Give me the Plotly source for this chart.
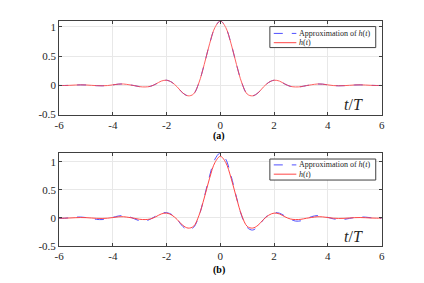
import plotly.graph_objects as go

t = [-6.0, -5.8, -5.6, -5.4, -5.2, -5.0, -4.8, -4.6, -4.4, -4.2, -4.0, -3.8, -3.6, -3.4, -3.2,
     -3.0, -2.8, -2.6, -2.4, -2.2, -2.0, -1.8, -1.6, -1.4, -1.2, -1.0, -0.8, -0.6, -0.4, -0.2,
     0.0, 0.2, 0.4, 0.6, 0.8, 1.0, 1.2, 1.4, 1.6, 1.8, 2.0, 2.2, 2.4, 2.6, 2.8, 3.0, 3.2, 3.4,
     3.6, 3.8, 4.0, 4.2, 4.4, 4.6, 4.8, 5.0, 5.2, 5.4, 5.6, 5.8, 6.0]

h = [-0.002, -0.003, 0.0, 0.005, 0.008, 0.006, 0.0, -0.006, -0.008, -0.004, 0.008, 0.02, 0.022, 0.01, -0.005,
     -0.023, -0.028, -0.017, 0.022, 0.072, 0.087, 0.05, -0.03, -0.13, -0.18, -0.15, 0.04, 0.356, 0.71, 0.99,
     1.10, 0.99, 0.71, 0.356, 0.04, -0.15, -0.18, -0.13, -0.03, 0.05, 0.087, 0.072, 0.022, -0.017, -0.028,
     -0.023, -0.005, 0.01, 0.022, 0.02, 0.008, -0.004, -0.008, -0.006, 0.0, 0.006, 0.008, 0.005, 0.0,
     -0.003, -0.002]

approx_a = [-0.002, -0.003, 0.0, 0.005, 0.008, 0.006, 0.0, -0.006, -0.008, -0.004, 0.008, 0.02, 0.022, 0.01, -0.005,
            -0.023, -0.028, -0.017, 0.022, 0.072, 0.087, 0.05, -0.03, -0.13, -0.18, -0.15, 0.04, 0.356, 0.71, 0.99,
            1.10, 0.99, 0.71, 0.356, 0.04, -0.15, -0.18, -0.13, -0.03, 0.05, 0.087, 0.072, 0.022, -0.017, -0.028,
            -0.023, -0.005, 0.01, 0.022, 0.02, 0.008, -0.004, -0.008, -0.006, 0.0, 0.006, 0.008, 0.005, 0.0,
            -0.003, -0.002]

approx_b = [-0.008, -0.005, 0.005, 0.015, 0.017, 0.008, -0.008, -0.025, -0.028, -0.015, 0.01, 0.035, 0.042, 0.025, -0.015,
            -0.05, -0.055, -0.02, 0.035, 0.085, 0.095, 0.06, -0.03, -0.15, -0.215, -0.17, 0.03, 0.37, 0.75, 1.05,
            1.16, 1.05, 0.75, 0.37, 0.03, -0.17, -0.215, -0.15, -0.03, 0.06, 0.095, 0.085, 0.035, -0.02, -0.055,
            -0.05, -0.015, 0.025, 0.042, 0.035, 0.01, -0.015, -0.028, -0.025, -0.008, 0.008, 0.017, 0.015, 0.005,
            -0.005, -0.008]

legend_labels = ["Approximation of <i>h</i>(<i>t</i>)", "<i>h</i>(<i>t</i>)"]
x_ticks = [-6, -4, -2, 0, 2, 4, 6]
x_tick_text = ["-6", "-4", "-2", "0", "2", "4", "6"]
y_ticks = [-0.5, 0, 0.5, 1]
y_tick_text = ["-0.5", "0", "0.5", "1"]

BLUE = "rgb(80,80,255)"
RED = "rgb(255,70,70)"
FONT = "Liberation Serif"
TXT = "#262626"

fig = go.Figure()
fig.add_trace(go.Scatter(x=t, y=approx_a, mode="lines", line=dict(color=BLUE, width=1, dash="dash", shape="spline"),
                         name=legend_labels[0], xaxis="x", yaxis="y"))
fig.add_trace(go.Scatter(x=t, y=h, mode="lines", line=dict(color=RED, width=1, shape="spline"), opacity=0.85,
                         name=legend_labels[1], xaxis="x", yaxis="y"))
fig.add_trace(go.Scatter(x=t, y=approx_b, mode="lines", line=dict(color=BLUE, width=1, dash="dash", shape="spline"),
                         name=legend_labels[0], xaxis="x2", yaxis="y2"))
fig.add_trace(go.Scatter(x=t, y=h, mode="lines", line=dict(color=RED, width=1, shape="spline"),
                         name=legend_labels[1], xaxis="x2", yaxis="y2"))

# the page keeps the browser's default 8px body margin; the figure is sized so the page fills the window
OFF = 8
W, H = 424 - 2 * OFF, 283 - 2 * OFF


def px(x):
    return (x - OFF) / W


def py(y):
    return 1 - (y - OFF) / H


xdom = [px(55), px(384)]
ax_common = dict(showline=True, linecolor="#404040", linewidth=1, mirror="ticks", ticks="inside",
                 ticklen=3, tickcolor="#404040", showgrid=True, gridcolor="#e8e8e8", gridwidth=1,
                 zeroline=False, tickfont=dict(family=FONT, size=11, color=TXT))

shapes = []
annotations = []


def label(text, x, y, size, color=TXT, xanchor="center"):
    annotations.append(dict(text=text, x=px(x), y=py(y), xref="paper", yref="paper", showarrow=False,
                            xanchor=xanchor, yanchor="middle", font=dict(family=FONT, size=size, color=color)))


def add_legend(x0, x1, y0, y1, rows, line_x0, line_x1, text_x):
    shapes.append(dict(type="rect", xref="paper", yref="paper", x0=px(x0), x1=px(x1), y0=py(y1), y1=py(y0),
                       line=dict(color="#404040", width=1), fillcolor="white", layer="above"))
    styles = [dict(color=BLUE, width=1, dash="dash"), dict(color=RED, width=1)]
    for i, ry in enumerate(rows):
        shapes.append(dict(type="line", xref="paper", yref="paper", x0=px(line_x0), x1=px(line_x1),
                           y0=py(ry), y1=py(ry), line=styles[i], layer="above"))
        label(legend_labels[i], text_x, ry, 8, xanchor="left")


add_legend(270, 378, 27, 48.5, [34, 43.5], 274, 297, 298)
add_legend(270, 378, 162.5, 184, [168.5, 178], 274, 297, 298)

label("<i>t</i>/<i>T</i>", 355, 107, 16)
label("<i>t</i>/<i>T</i>", 355, 242, 16)
label("<b>(a)</b>", 218, 139, 10, color="#000000")
label("<b>(b)</b>", 218, 276, 10, color="#000000")

fig.update_layout(
    width=W, height=H, margin=dict(l=0, r=0, t=0, b=0),
    paper_bgcolor="white", plot_bgcolor="white", showlegend=False,
    xaxis=dict(domain=xdom, range=[-6, 6], tickvals=x_ticks, ticktext=x_tick_text, anchor="y", **ax_common),
    yaxis=dict(domain=[py(117), py(21)], range=[-0.5, 1.105], tickvals=y_ticks, ticktext=y_tick_text,
               anchor="x", **ax_common),
    xaxis2=dict(domain=xdom, range=[-6, 6], tickvals=x_ticks, ticktext=x_tick_text, anchor="y2", **ax_common),
    yaxis2=dict(domain=[py(251.5), py(156)], range=[-0.5, 1.165], tickvals=y_ticks, ticktext=y_tick_text,
                anchor="x2", **ax_common),
    shapes=shapes,
    annotations=annotations,
)

fig.write_html("out.html", config={"displayModeBar": False})
